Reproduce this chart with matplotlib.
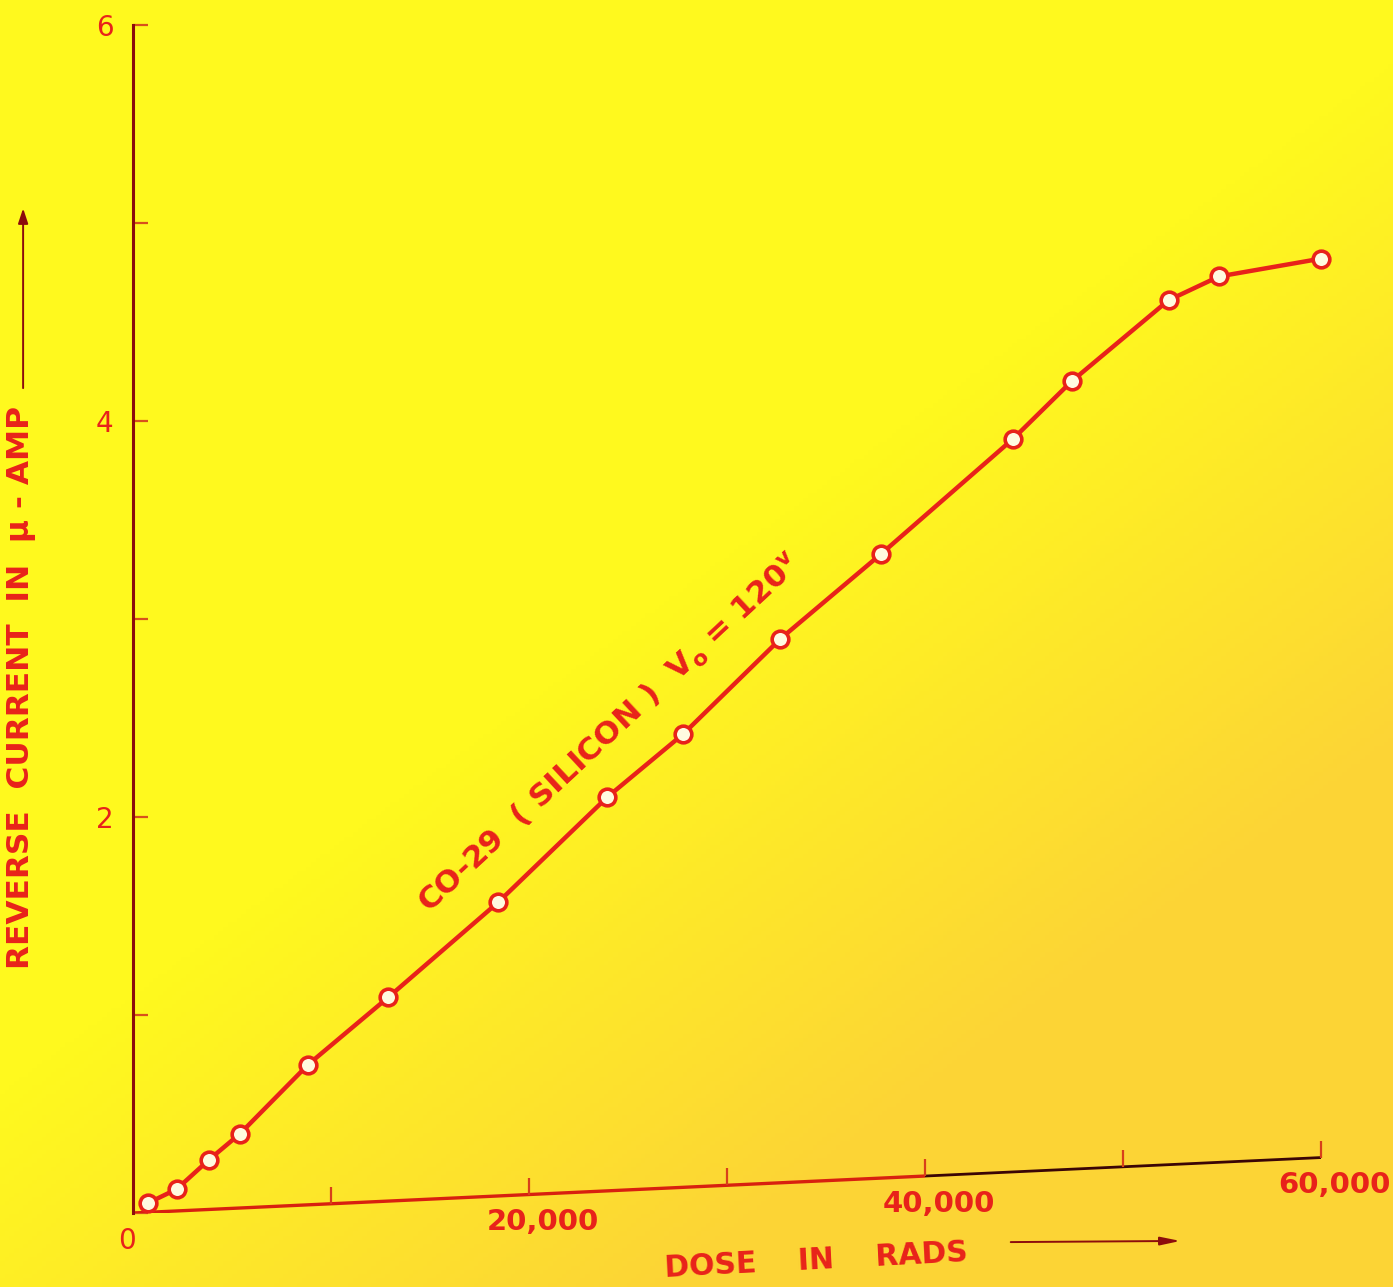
import numpy as np
import matplotlib.pyplot as plt

# CO-29 silicon diode, reverse current vs. accumulated dose
dose = [750, 2200, 3850, 5400, 8850, 12900, 18450, 23950, 27800,
        32700, 37800, 44450, 47400, 52300, 54850, 60000]
current = [0.05, 0.12, 0.27, 0.40, 0.75, 1.09, 1.57, 2.10, 2.42,
           2.90, 3.33, 3.91, 4.20, 4.61, 4.73, 4.82]

x_ticks = [0, 10000, 20000, 30000, 40000, 50000, 60000]
x_labels = ['0', '', '20,000', '', '40,000', '', '60,000']
y_ticks = [0, 1, 2, 3, 4, 5, 6]
y_labels = ['', '', '2', '', '4', '', '6']

curve_label = r'CO-29  ( SILICON )  V$_\mathbf{o}$ = 120$^\mathbf{v}$'

red = '#e8221a'
dark = '#8c0c0c'
tilt = 0.28   # the hand-drawn dose axis rises slightly towards the right

fig = plt.figure(figsize=(13.93, 12.87), dpi=100)

# paper tone, yellow fading to orange towards the lower right
bg = fig.add_axes([0, 0, 1, 1])
bg.axis('off')
yy, xx = np.mgrid[0:1:300j, 0:1:300j]
t = np.clip((xx * 0.8 + yy * 1.0 - 0.85) * 1.6, 0, 0.85)[..., None]
yellow = np.array([255, 249, 30]) / 255
orange = np.array([252, 206, 58]) / 255
bg.imshow(yellow * (1 - t) + orange * t, extent=[0, 1, 0, 1],
          aspect='auto', origin='upper')

ax = fig.add_axes([133 / 1393, 1 - 1213 / 1287, 1188 / 1393, 1188 / 1287])
ax.set_facecolor('none')
ax.set_xlim(0, 60000)
ax.set_ylim(0, 6)

for side in ['top', 'right', 'bottom']:
    ax.spines[side].set_visible(False)
ax.spines['left'].set_color(dark)
ax.spines['left'].set_linewidth(2.2)

ax.set_yticks(y_ticks)
ax.set_yticklabels(y_labels, fontsize=20, color=red)
ax.tick_params(axis='y', direction='in', length=11, width=1.6,
               color='#d8501c', pad=14)
ax.set_xticks([])


def base(x):
    return tilt * np.asarray(x, dtype=float) / 60000


# tilted dose axis: red on the left, darker ink on the right
xb = np.array([0, 40000])
ax.plot(xb, base(xb), color='#d8200f', lw=2.4, solid_capstyle='butt')
xb = np.array([40000, 60000])
ax.plot(xb, base(xb), color='#3a0505', lw=2.0, solid_capstyle='butt')
ax.plot(x_ticks[1:], base(x_ticks[1:]), ls='none', marker=2, ms=12,
        mew=1.6, color='#d8401a', clip_on=False)

for xv, lbl in zip(x_ticks, x_labels):
    if not lbl:
        continue
    ax.annotate(lbl, (xv, base(xv)), xytext=(-4 if xv == 0 else 10, -10),
                textcoords='offset points', ha='center', va='top',
                fontsize=20 if xv == 0 else 21, color=red,
                fontweight='normal' if xv == 0 else 'bold',
                annotation_clip=False)

# measured curve
ax.plot(dose, current, color=red, lw=3.2, marker='o', ms=12,
        mfc='#fffbe0', mec=red, mew=2.6, clip_on=False, zorder=3)

ax.text(24100, 2.42, curve_label, rotation=43, rotation_mode='anchor',
        ha='center', va='center', fontsize=22.5, fontweight='bold', color=red)

# axis titles with their direction arrows
ax.set_ylabel('REVERSE  CURRENT  IN  \u03bc - AMP', fontsize=22.5,
              fontweight='bold', color=red)
ax.yaxis.set_label_coords(-0.082, 0.442)
ax.annotate('', xy=(-0.0925, 0.848), xytext=(-0.0925, 0.692),
            xycoords='axes fraction',
            arrowprops=dict(arrowstyle='-|>,head_length=0.9,head_width=0.3',
                            color=dark, lw=1.4))

ax.set_xlabel('DOSE    IN    RADS', fontsize=21.5, fontweight='bold', color=red)
ax.xaxis.set_label_coords(0.575, -0.040)
ax.xaxis.label.set_va('center')
ax.xaxis.label.set_rotation(3)
ax.annotate('', xy=(0.884, -0.0235), xytext=(0.7365, -0.0245),
            xycoords='axes fraction',
            arrowprops=dict(arrowstyle='-|>,head_length=1.2,head_width=0.25',
                            color=dark, lw=1.4))

fig.savefig('out.png', dpi=100)
